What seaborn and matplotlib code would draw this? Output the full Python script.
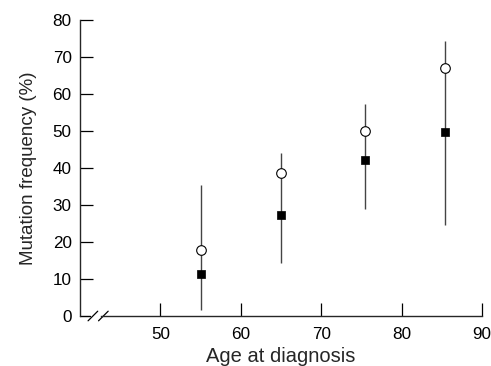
import matplotlib
matplotlib.use("Agg")
import matplotlib.pyplot as plt
import seaborn as sns
import pandas as pd

# values
age_mid = [55.0, 65.0, 75.5, 85.4]
freq_open = [17.8, 38.8, 50.0, 67.1]
freq_filled = [11.4, 27.3, 42.3, 49.8]
ci_high = [35.3, 44.2, 57.4, 74.4]
ci_low = [1.6, 14.2, 28.8, 24.5]

x_ticks = [50, 60, 70, 80, 90]
y_ticks = [0, 10, 20, 30, 40, 50, 60, 70, 80]

sns.set_theme(style="ticks")
plt.rcParams['font.family'] = ['Liberation Sans', 'DejaVu Sans']

df = pd.DataFrame({"age": age_mid, "open": freq_open, "filled": freq_filled,
                   "hi": ci_high, "lo": ci_low})

fig = plt.figure(figsize=(4.91, 3.66), dpi=100)
ax = fig.add_axes([0.163, 0.1366, 0.8187, 0.8084])

ax.vlines(df["age"], df["lo"], df["hi"], color="#444444", linewidth=1.0, zorder=1)
sns.scatterplot(data=df, x="age", y="open", ax=ax, marker="o", s=48,
                facecolor="white", edgecolor="black", linewidth=0.8, zorder=3)
sns.scatterplot(data=df, x="age", y="filled", ax=ax, marker="s", s=40,
                color="black", edgecolor="black", linewidth=0.5, zorder=3)

ax.set_xlim(40, 90)
ax.set_ylim(0, 80)
ax.set_xticks(x_ticks)
ax.set_yticks(y_ticks)
ax.tick_params(direction="in", length=9.5, width=0.9, colors="black",
               labelsize=12.3, pad=6)
ax.tick_params(axis="x", pad=8)
# no tick at 0 on the y axis
ax.yaxis.get_major_ticks()[0].tick1line.set_visible(False)

for s in ["top", "right"]:
    ax.spines[s].set_visible(False)
ax.spines["left"].set_linewidth(1.0)
ax.spines["bottom"].set_linewidth(1.0)
ax.spines["bottom"].set_bounds(42.6, 90)

# axis break on the x axis
ax.plot([40, 41.3], [0, 0], color="black", linewidth=1.0, clip_on=False)
for x0 in [41.0, 42.3]:
    ax.plot([x0, x0 + 1.2], [-1.3, 1.3], color="black", linewidth=0.9, clip_on=False)

ax.set_xlabel("Age at diagnosis", fontsize=14.5)
ax.set_ylabel("Mutation frequency (%)", fontsize=13.5)
ax.xaxis.set_label_coords(0.5, -0.104)
ax.yaxis.set_label_coords(-0.107, 0.5)

fig.savefig("out.png", dpi=100)
